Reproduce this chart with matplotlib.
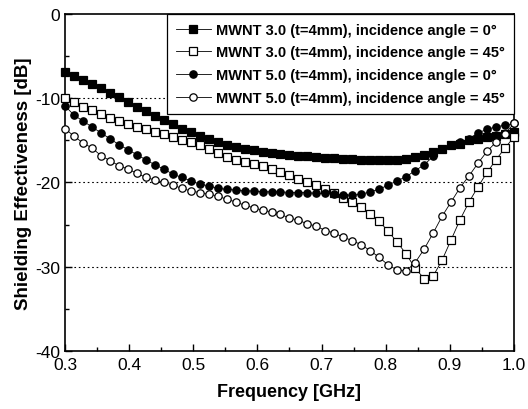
import numpy as np
import matplotlib
matplotlib.use("Agg")
import matplotlib.pyplot as plt
from matplotlib.ticker import MultipleLocator

plt.rcParams['font.family'] = ['Liberation Sans', 'DejaVu Sans']
plt.rcParams['axes.unicode_minus'] = False

# frequency sweep, 51 points from 0.3 to 1.0 GHz
freq = np.linspace(0.3, 1.0, 51)

# shielding effectiveness [dB]
se_30_0 = [-6.9, -7.4, -7.8, -8.3, -8.8, -9.4, -9.9, -10.4, -11.0, -11.5,
           -12.1, -12.6, -13.1, -13.6, -14.0, -14.5, -14.8, -15.2, -15.5, -15.8,
           -16.0, -16.2, -16.35, -16.5, -16.6, -16.7, -16.8, -16.9, -17.0, -17.05,
           -17.1, -17.2, -17.25, -17.3, -17.3, -17.3, -17.3, -17.3, -17.2, -17.0,
           -16.7, -16.4, -16.0, -15.6, -15.4, -15.0, -14.8, -14.6, -14.5, -14.2,
           -14.0]
se_30_45 = [-10.0, -10.5, -11.0, -11.45, -11.9, -12.3, -12.7, -13.05, -13.4, -13.7,
            -14.0, -14.3, -14.6, -14.9, -15.2, -15.6, -16.0, -16.5, -17.0, -17.3,
            -17.6, -17.8, -18.1, -18.4, -18.7, -19.1, -19.6, -20.0, -20.3, -20.8,
            -21.3, -21.8, -22.3, -22.9, -23.7, -24.6, -25.8, -27.1, -28.5, -30.2,
            -31.4, -31.1, -29.2, -26.8, -24.4, -22.3, -20.5, -18.8, -17.3, -15.9,
            -14.6]
se_50_0 = [-10.9, -12.0, -12.7, -13.4, -14.1, -14.8, -15.5, -16.1, -16.7, -17.3,
           -17.9, -18.4, -19.0, -19.4, -19.8, -20.2, -20.4, -20.7, -20.8, -20.9,
           -21.0, -21.0, -21.1, -21.1, -21.1, -21.2, -21.2, -21.2, -21.3, -21.3,
           -21.4, -21.5, -21.5, -21.4, -21.1, -20.8, -20.3, -19.8, -19.3, -18.6,
           -17.9, -16.9, -16.0, -15.6, -15.2, -14.8, -14.1, -13.7, -13.4, -13.2,
           -13.0]
se_50_45 = [-13.6, -14.5, -15.3, -15.9, -16.8, -17.4, -18.0, -18.4, -18.9, -19.4,
            -19.7, -20.0, -20.3, -20.7, -21.0, -21.2, -21.4, -21.6, -22.0, -22.3,
            -22.7, -23.0, -23.3, -23.5, -23.8, -24.2, -24.5, -24.9, -25.2, -25.7,
            -26.0, -26.5, -26.9, -27.4, -28.1, -28.9, -29.8, -30.4, -30.5, -29.5,
            -27.9, -26.0, -24.0, -22.3, -20.6, -19.2, -17.7, -16.3, -15.2, -14.2,
            -13.0]

labels = ["MWNT 3.0 (t=4mm), incidence angle = 0\u00b0",
          "MWNT 3.0 (t=4mm), incidence angle = 45\u00b0",
          "MWNT 5.0 (t=4mm), incidence angle = 0\u00b0",
          "MWNT 5.0 (t=4mm), incidence angle = 45\u00b0"]

fig = plt.figure(figsize=(5.28, 4.10), dpi=100)
ax = fig.add_axes([0.123, 0.1415, 0.8505, 0.822])

styles = [('s', 'black'), ('s', 'white'), ('o', 'black'), ('o', 'white')]
for y, (m, fc), lab in zip([se_30_0, se_30_45, se_50_0, se_50_45], styles, labels):
    ax.plot(freq, y, color='black', lw=0.6, marker=m, ms=5.3,
            markerfacecolor=fc, markeredgecolor='black', markeredgewidth=0.9,
            label=lab, clip_on=False, zorder=3)

ax.set_xlim(0.3, 1.0)
ax.set_ylim(-40, 0)
ax.xaxis.set_major_locator(MultipleLocator(0.1))
ax.xaxis.set_minor_locator(MultipleLocator(0.05))
ax.yaxis.set_major_locator(MultipleLocator(10))
ax.yaxis.set_minor_locator(MultipleLocator(5))
ax.xaxis.set_major_formatter(matplotlib.ticker.FormatStrFormatter('%.1f'))
ax.tick_params(which='both', direction='in', labelsize=12.5)
ax.tick_params(which='major', length=5, width=1)
ax.tick_params(which='minor', length=3, width=1)
ax.tick_params(axis='x', pad=4)
for s in ax.spines.values():
    s.set_linewidth(1.2)

for v in [-10, -20, -30]:
    ax.axhline(v, color='black', lw=0.8, ls=(0, (1.5, 2.5)), zorder=1)

ax.set_xlabel("Frequency [GHz]", fontsize=13, fontweight='bold', labelpad=8)
ax.set_ylabel("Shielding Effectiveness [dB]", fontsize=13.5, fontweight='bold', labelpad=2)

leg = ax.legend(loc='upper right', bbox_to_anchor=(1.0, 1.0), fancybox=False,
                edgecolor='black', framealpha=1, borderaxespad=0.0,
                prop={'weight': 'bold', 'size': 10.5}, handlelength=2.4,
                handletextpad=0.4, labelspacing=0.6, borderpad=0.6)
leg.get_frame().set_linewidth(0.9)

fig.savefig("out.png", dpi=100)
